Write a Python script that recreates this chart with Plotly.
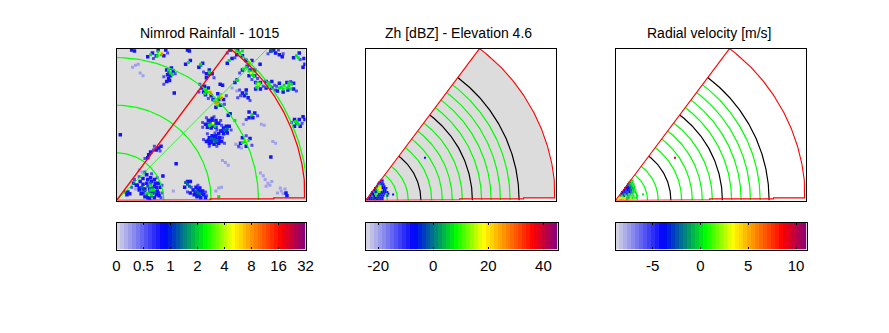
import numpy as np
import plotly.graph_objects as go

W, H = 889, 333
titles = ["Nimrod Rainfall - 1015", "Zh [dBZ] - Elevation 4.6", "Radial velocity [m/s]"]

# rain map cells by rate class: km east, km north
faint_xy = [(20,142),(23,143),(17,140),(25,134),(28,131),(122,118),(127,115),(129,56),(126,59),(132,55),(115,40),(118,37),(112,42),(165,62),(168,60),(108,13),(105,10),(111,14),(155,26),(157,22),(152,29),(160,18),(164,20),(158,15),(162,16),(174,10),(178,12),(170,8),(176,7),(173,13),(27,30),(30,27),(24,32),(153,80),(156,79),(134,80),(20,12),(60,10)]
skirt_xy = [(92,64),(96,70),(104,71),(112,66),(114,60),(106,57),(98,57),(91,82),(95,87),(103,88),(110,84),(91,77),(106,74),(121,74),(111,79),(75,9),(79,14),(86,16),(94,9),(95,5),(19,22),(24,25),(30,30),(37,28),(43,24),(48,16),(48,8),(47,3),(16,14),(9,9),(128,108),(131,110),(141,105),(130,116),(88,122),(87,114),(97,107),(114,101),(116,110),(92,135),(103,129),(50,130),(62,133),(50,122),(39,149),(54,155),(117,155),(125,150),(136,148),(130,134),(149,128),(143,127),(155,120),(167,121),(168,116),(190,115),(184,125),(169,120),(129,57),(143,58),(137,68),(137,85),(149,89),(185,82),(196,81),(160,154),(171,158),(40,57),(39,53),(46,52),(30,44),(176,154),(194,148)]
blue_xy = [(16,158),(19,157),(75,158),(77,157),(61,113),(4,69),(63,38.6),(49,25.6),(151.6,143),(172,153),(175,151),(198,149),(197,140),(199,143),(109.5,122),(112,121),(118,89.5),(120,91),(163,45.6),(180,5),(179,8),(197,88),(199,85),(163,157),(166,158),(168,155),(55,128),(53,125),(57,131),(44.6,55),(42,53),(47,57),(36,51),(34,48),(33,45),
(95,62),(98,66),(101,68),(105,68),(109,66),(111,62),(108,60),(103,59),(98,60),(103,64),(107,64),(99,63),(101,64),(105,65),(103,67),(97,63),(108,63),(100,61),(106,61),
(94,80),(97,84),(101,86),(105,84),(108,81),(105,77),(100,76),(96,77),(101,83),(97,80),(105,81),(102,78),(99,84),
(108,70),(110,73),(113,76),(116,78),(119,78),(117,71),(113,70),(112,73),(116,73),
(78,8),(81,11),(84,14),(88,13),(91,10),(92,6),(89,3),(85,4),(82,6),(86,8),(94,3),(72,14),(75,20),(78,20),(86,11),(83,9),(88,10),(84,7),(87,5),(90,7),
(25,20),(28,23),(32,27),(36,24),(40,22),(44,18),(46,14),(43,10),(45,5),(40,3),(35,2),(30,4),(26,7),(24,11),(22,16),(30,12),(35,12),(40,15),(32,18),(28,8),(28,12),(28,17),(33,22),(37,20),(41,18),(42,6),(38,8),(33,3),(42,14),(44,8),
(21,16),(18,18),(24,13),(12,9),(14,7),(11,6),
(135,110),(139,108),(137,116),(133,113),(125,124),(90,118),(93,120),(97,118),(100,110),(94,111),(92,114),
(105,98),(102,106),(108,106),(110,100),(107,112),(113,106),(95,133),(98,137),(101,133),(95,129),
(54,132),(60,136),(58,139),(53,137),(56,126),(42,152),(44,158),(50,152),(52,158),(127,153),(133,152),(120,158),(128,158),
(133,137),(138,141),(143,147),(137,147),(141,137),(140,131),(146,131),(146,137),(147,117),(152,117),(152,124),(147,124),
(158,118),(164,118),(164,125),(158,125),(170,115),(176,114),(181,116),(187,117),(187,123),(180,124),(172,123),
(131,60),(141,65),(137,57),(133,66),(140,87),(146,92),(144,87),(140,93),(188,78),(194,78),(188,85),(193,85),
(187,150),(193,155),(117,144),(122,149),(73,143),(78,147),(87,140),(91,144),(33,151),(38,155)]
teal_xy = [(103,64),(100,65),(106,63),(104,62),(75,17),(73,19),(77,15),(86,8),(88,7),(84,10),(137,112),(127,127),(114,74),(117,75),(30,10),(35,9),(38,13),(33,15),(36,18),(40,9),(27,14),(32,6),(37,5),(99,81),(103,82),(55,135),(58,133),(121,158),(164,157),(190,81),(89,142),(98,132)]
green_xy = [(36,153),(44,156),(47,153),(43,152),(76,145),(89,143),(98,135),(57,134),(55,137),(59,132),(119,147),(130,155),(133,157),(127,157),(140,144),(137,140),(134,138),(142,134),(145,136),(140,136),(143,132),(145,131),(150,121),(148,119),(151,123),(148,123),(161,122),(163,120),(159,120),(161,124),(174,119),(177,121),(172,118),(182,120),(185,122),(180,118),(182,123),(176,117),(184,117),(96,114),(94,116),(93,112),(105,103),(107,100),(103,105),(108,108),(110,111),(143,90),(125,84),(101,80),(104,78),(98,79),(136,62),(139,63),(133,61),(191,82),(192,80),(189,83),(190,152),(192,150),(36,11),(37,6),(33,8),(36,16),(39,11),(108,4),(128,126)]
yellow_xy = [(46,155),(141,146),(142,134),(150,122),(98,115),(111,110),(106,102),(102,81),(137,63)]
orange_xy = [(48,154),(99,114),(100,112),(111,108),(105,102),(107,103)]
rain_classes = [0.35, 0.55, 0.75, 1.3, 2.2, 4.5, 9.0]

# radar volume cells, by row (2 km cells)
row_y = [1, 3, 5, 7, 9, 11, 13, 15, 17, 19, 21]
row_x0 = [2, 4, 5, 6, 7, 9, 10, 12, 13, 14, 16]
zh_rows = [[-8,-8,-9,-8,0,-8,-9,-6,-8], [-7,-8,-2,-8,-8,-4,-8,-8], [-8,0,-8,8,-6,-8,-8,-6,None,-9],
           [-6,-8,6,10,-8,-7,-8,-9,None,-8], [-8,2,-8,8,12,-7,-8,-8,-9], [-8,0,10,18,14,-7,-8],
           [-8,6,18,20,-7,-8,-9], [-8,12,16,-7,-8], [-7,4,-8,-8], [-8,-8,-9], [-9,-8]]
vr_rows = [[4,5,6,5,4,7,5,4,2,3], [3,4,2,4,0,-1,2,0,1,0], [-1,0,-2,1,-1,0,1,0,None,0],
           [-4,-2,-1,-3,0,-1,0,None,0], [-4,-3,-5,-2,-4,-1,0,0], [-4,-5,-4,-3,-2,0,1],
           [-5,-4,-4,-2,-1,0], [-4,-3,-2,0,0], [-3,-1,0,0], [0,-1,0], [0,0]]
stray_xy = [(62.5, 45), (29, 6.3)]
stray_zh = [-8, -8]
stray_vr = [9, 0]

rain_rings = [50, 100, 150, 202]
green_rings = [23, 33.7, 44.9, 69.5, 80.7, 91.2, 101.8, 122, 132, 141.8, 152]
black_rings = [10.5, 58.2, 112.3, 161.4]
wedge_radius = 199.5
wedge_az = [6.2, 53.1]
base_x = [0, 35, 35, 99, 99, 166, 166, 198.6]
base_y = [0, 0, 0.7, 0.7, 1.75, 1.75, 2.8, 2.8]
guide_end = 160

bar_ranges = [[0, 7], [-24.6, 45.1], [-8.9, 11.1]]
bar_ticks = [[0, 1, 2, 3, 4, 5, 6, 7], [-20, 0, 20, 40], [-5, 0, 5, 10]]
bar_labels = [["0", "0.5", "1", "2", "4", "8", "16", "32"], ["-20", "0", "20", "40"], ["-5", "0", "5", "10"]]

scale = [[0, "#dcdce4"], [0.25, "#0000ff"], [0.47, "#00ff00"], [0.61, "#ffff00"], [0.87, "#ff0000"], [1, "#800080"]]
FONT = "Liberation Sans, Arial, sans-serif"
panel_px = [(116.5, 305.5), (365.5, 555.5), (615.5, 805.5)]
bar_px = [(116.5, 305.5), (365.5, 557.5), (615.5, 806.5)]
GREEN, BLACK, RED = "#00ff00", "#000000", "#ff0000"

fig = go.Figure()

def arc(r, a0=0.0, a1=90.0):
    t = np.radians(np.linspace(a0, a1, 120))
    return r * np.cos(t), r * np.sin(t)

def line(x, y, color, ax, width=1.2):
    fig.add_trace(go.Scatter(x=x, y=y, mode="lines", line=dict(color=color, width=width),
                             xaxis=f"x{ax}", yaxis=f"y{ax}", showlegend=False, hoverinfo="skip"))

def outline():
    ax_x, ax_y = arc(wedge_radius, wedge_az[0], wedge_az[1])
    return list(base_x) + list(ax_x) + [0], list(base_y) + list(ax_y) + [0]

def cells(x, y, v, lo, hi, ax, size):
    fig.add_trace(go.Scatter(x=x, y=y, mode="markers",
                             marker=dict(symbol="square", size=size, color=v, colorscale=scale,
                                         cmin=lo, cmax=hi, line=dict(width=0)),
                             xaxis=f"x{ax}", yaxis=f"y{ax}", showlegend=False, hoverinfo="skip"))

# panel 1
layers = [faint_xy, skirt_xy, blue_xy, teal_xy, green_xy, yellow_xy, orange_xy]
sizes = [3, 3, 3.5, 3, 3, 2.5, 2.5]
for pts, val, sz in zip(layers, rain_classes, sizes):
    xs, ys = zip(*pts)
    idx = (np.log2(val) + 2)
    cells(list(xs), list(ys), [idx] * len(xs), 0, 7, 1, sz)
for r in rain_rings:
    line(*arc(r), GREEN, 1)
line([0, guide_end], [0, guide_end], GREEN, 1, 0.8)
ox, oy = outline()
line(ox, oy, RED, 1, 1.3)

# panels 2, 3
def expand(rows, stray_vals):
    xs, ys, vs = [], [], []
    for y, x0, row in zip(row_y, row_x0, rows):
        for k, v in enumerate(row):
            if v is not None:
                xs.append(x0 + 2 * k); ys.append(y); vs.append(v)
    for (x, y), v in zip(stray_xy, stray_vals):
        xs.append(x); ys.append(y); vs.append(v)
    return xs, ys, vs

for ax, rows, stray, rng in [(2, zh_rows, stray_zh, bar_ranges[1]), (3, vr_rows, stray_vr, bar_ranges[2])]:
    ox, oy = outline()
    if ax == 2:
        fig.add_trace(go.Scatter(x=ox, y=oy, mode="lines", fill="toself", fillcolor="#dcdcdc",
                                 line=dict(width=0), xaxis="x2", yaxis="y2", showlegend=False, hoverinfo="skip"))
    for r in green_rings:
        line(*arc(r, 0, wedge_az[1]), GREEN, ax)
    for r in black_rings:
        line(*arc(r, 0, wedge_az[1]), BLACK, ax)
    xs, ys, vs = expand(rows, stray)
    cells(xs, ys, vs, rng[0], rng[1], ax, 2)
    line(ox, oy, RED, ax, 1.1)

# colour bars
for i in range(3):
    lo, hi = bar_ranges[i]
    edges = np.linspace(lo, hi, 49)
    mids = (edges[:-1] + edges[1:]) / 2
    fig.add_trace(go.Heatmap(x=mids, y=[0, 1], z=[mids, mids], zmin=lo, zmax=hi, colorscale=scale,
                             showscale=False, hoverinfo="skip", xaxis=f"x{i+4}", yaxis=f"y{i+4}"))

layout = dict(template="none", width=W, height=H, margin=dict(l=0, r=0, t=0, b=0, pad=0), paper_bgcolor="white",
              plot_bgcolor="white", showlegend=False, font=dict(family=FONT, color="black", size=14))
axis_line = dict(showline=True, linecolor="black", linewidth=1.2, showgrid=False, zeroline=False, automargin=False)
for i in range(3):
    x0, x1 = panel_px[i]
    layout[f"xaxis{i+1}"] = dict(domain=[x0 / W, x1 / W], range=[0, 199.6], showticklabels=False, ticks="",
                                 anchor=f"y{i+1}", mirror=True, **axis_line)
    layout[f"yaxis{i+1}"] = dict(domain=[1 - 200.5 / H, 1 - 48.5 / H], range=[0, 159.6], showticklabels=False,
                                 ticks="", anchor=f"x{i+1}", mirror=True, **axis_line)
    bx0, bx1 = bar_px[i]
    layout[f"xaxis{i+4}"] = dict(domain=[bx0 / W, bx1 / W], range=bar_ranges[i], tickmode="array",
                                 tickvals=bar_ticks[i], ticktext=bar_labels[i], ticks="inside", ticklen=2,
                                 tickcolor="black", tickwidth=1, tickfont=dict(size=15), anchor=f"y{i+4}",
                                 ticklabelstandoff=2, mirror="ticks", **axis_line)
    layout[f"yaxis{i+4}"] = dict(domain=[1 - 249.5 / H, 1 - 222.5 / H], range=[-0.5, 1.5], showticklabels=False,
                                 ticks="", anchor=f"x{i+4}", mirror=True, **axis_line)
fig.update_layout(**layout)
# grey ground under the rain map
fig.add_shape(type="rect", xref="x domain", yref="y domain", x0=0, x1=1, y0=0, y1=1,
              fillcolor="#dcdcdc", line=dict(width=0), layer="below")
for i, t in enumerate(titles):
    fig.add_annotation(text=t, xref="paper", yref="paper", x=((panel_px[i][0] + panel_px[i][1]) / 2 - 2) / W,
                       y=1 - 33 / H, showarrow=False, font=dict(size=14, family=FONT), xanchor="center", yanchor="middle")
fig.write_html("out.html", post_script="document.body.style.margin='0';", config=dict(displayModeBar=False))
